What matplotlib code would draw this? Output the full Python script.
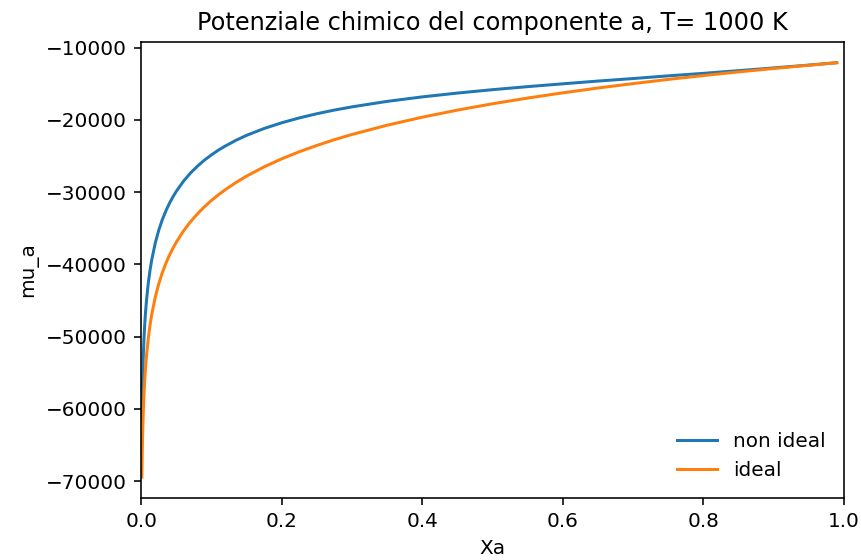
import matplotlib
matplotlib.use("Agg")
import matplotlib.pyplot as plt

# values
xa = [0.001, 0.0015, 0.002, 0.003, 0.004, 0.005, 0.006, 0.0075, 0.01, 0.0125,
      0.015, 0.02, 0.025, 0.03, 0.035, 0.04, 0.045, 0.05, 0.06, 0.07,
      0.08, 0.09, 0.1, 0.11, 0.12, 0.135, 0.15, 0.175, 0.2, 0.225,
      0.25, 0.275, 0.3, 0.35, 0.4, 0.45, 0.5, 0.55, 0.6, 0.65,
      0.7, 0.75, 0.8, 0.85, 0.9, 0.95, 0.99]
mu_non_ideal = [-61650, -58280, -55900, -52550, -50170, -48330, -46830, -45000, -42650, -40830,
                -39350, -37040, -35250, -33810, -32610, -31570, -30670, -29870, -28500, -27360,
                -26400, -25560, -24830, -24170, -23590, -22810, -22130, -21180, -20390, -19720,
                -19140, -18630, -18190, -17430, -16810, -16280, -15810, -15390, -15000, -14620,
                -14270, -13900, -13550, -13180, -12800, -12410, -12080]
mu_ideal = [-69430, -66060, -63670, -60300, -57900, -56050, -54540, -52680, -50290, -48430,
            -46920, -44530, -42670, -41150, -39870, -38760, -37780, -36910, -35390, -34110,
            -33000, -32020, -31140, -30350, -29630, -28650, -27770, -26490, -25380, -24400,
            -23530, -22730, -22010, -20730, -19620, -18640, -17760, -16970, -16250, -15580,
            -14970, -14390, -13860, -13350, -12880, -12430, -12080]

DPI = 144
fig = plt.figure(figsize=(861 / DPI, 560 / DPI), dpi=DPI)
ax = fig.add_axes([0.164, 0.111, 0.816, 0.814])

ax.plot(xa, mu_non_ideal, color="#1f77b4", linewidth=1.5, label="non ideal")
ax.plot(xa, mu_ideal, color="#ff7f0e", linewidth=1.5, label="ideal")

ax.set_xlim(0, 1.0)
ax.set_xticks([0.0, 0.2, 0.4, 0.6, 0.8, 1.0])
ax.set_yticks([-70000, -60000, -50000, -40000, -30000, -20000, -10000])
ax.set_title("Potenziale chimico del componente a, T= 1000 K")
ax.set_xlabel("Xa")
ax.set_ylabel("mu_a")
ax.legend(loc="lower right", frameon=False)

fig.savefig("out.png", dpi=DPI)
